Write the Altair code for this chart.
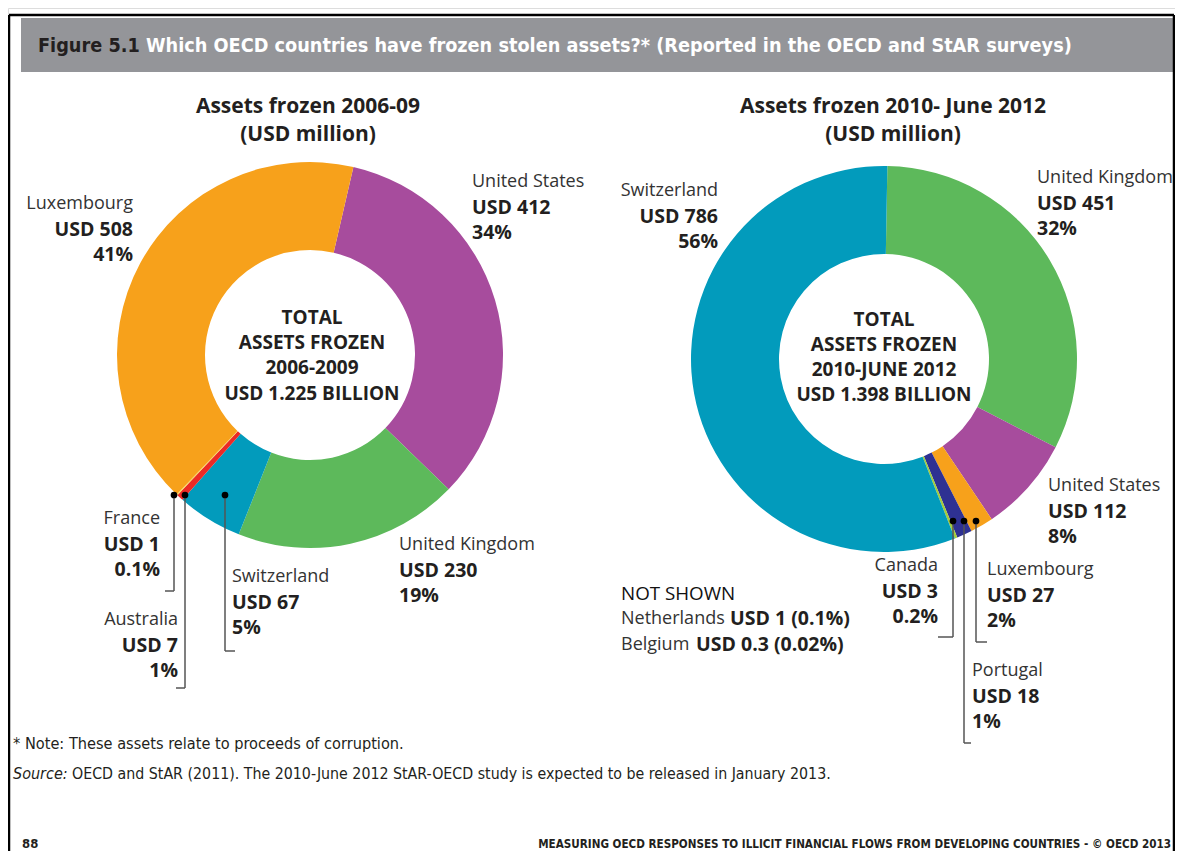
import math
import altair as alt
import pandas as pd

# ---------------- data ----------------
left_countries = ["United States", "United Kingdom", "Switzerland", "Australia", "France", "Luxembourg"]
left_values = [412, 230, 67, 7, 1, 508]
left_pct = ["34%", "19%", "5%", "1%", "0.1%", "41%"]

right_countries = ["United Kingdom", "United States", "Luxembourg", "Portugal", "Canada", "Switzerland"]
right_values = [451, 112, 27, 18, 3, 786]
right_pct = ["32%", "8%", "2%", "1%", "0.2%", "56%"]

not_shown_countries = ["Netherlands", "Belgium"]
not_shown_values = ["USD 1 (0.1%)", "USD 0.3 (0.02%)"]

color_domain = ["Luxembourg", "United States", "United Kingdom", "Switzerland",
                "Australia", "France", "Portugal", "Canada"]
color_range = ["#F7A11B", "#A74C9D", "#5DB95B", "#029BBC",
               "#EC2A26", "#F5D55A", "#2E3192", "#A4CD3A"]

# ---------------- layout (page pixel coords) ----------------
OFF = 8  # page margin
W, H = 1167, 843
RIGHT_EDGE = 1174

def px(v):
    return v - OFF

LEFT_C = (310, 355)
RIGHT_C = (884, 359)
R_OUT, R_IN = 193, 105

label_pos_left = {
    "United States": ("left", 472, 182),
    "United Kingdom": ("left", 399, 545),
    "Switzerland": ("left", 232, 577),
    "Australia": ("right", 178, 620),
    "France": ("right", 160, 519),
    "Luxembourg": ("right", 133, 204),
}
label_pos_right = {
    "United Kingdom": ("left", 1037, 178),
    "United States": ("left", 1048, 486),
    "Luxembourg": ("left", 987, 570),
    "Portugal": ("left", 972, 671),
    "Canada": ("right", 938, 566),
    "Switzerland": ("right", 718, 191),
}
LINE = 25.5

leaders = [  # dot position, elbow y, end x
    (174, 495, 591, 165),
    (185, 495, 688, 176),
    (225, 495, 651, 235),
    (953, 521, 637, 938),
    (964, 521, 743, 971),
    (976, 521, 642, 987),
]

FONT = "Open Sans"
CFONT = "Liberation Sans Narrow, DejaVu Sans Condensed, Open Sans"
DARK = "#231F20"
GREY = "#333333"
REG, BOLD = 18, 19.5

# ---------------- build tables ----------------
def donut_df(countries, values):
    return pd.DataFrame({"country": countries, "value": values, "idx": list(range(len(values)))})

dfL = donut_df(left_countries, left_values)
dfR = donut_df(right_countries, right_values)

rows = []
for countries, values, pcts, pos in [(left_countries, left_values, left_pct, label_pos_left),
                                     (right_countries, right_values, right_pct, label_pos_right)]:
    for c, v, p in zip(countries, values, pcts):
        al, x, y = pos[c]
        rows.append(dict(x=px(x), y=px(y), text=c, bold=False, align=al))
        rows.append(dict(x=px(x), y=px(y + LINE), text=f"USD {v}", bold=True, align=al))
        rows.append(dict(x=px(x), y=px(y + 2 * LINE), text=p, bold=True, align=al))
labels = pd.DataFrame(rows)

def text_layer(df, align="left", bold=False, size=17, color=DARK, font=FONT, italic=False, baseline="middle"):
    kw = dict(align=align, baseline=baseline, fontSize=size, font=font, color=color,
              fontWeight="bold" if bold else "normal")
    if italic:
        kw["fontStyle"] = "italic"
    return alt.Chart(df).mark_text(**kw).encode(
        x=alt.X("x:Q", scale=None), y=alt.Y("y:Q", scale=None), text="text:N")

layers = []

# frame + title bar
frame = pd.DataFrame([
    dict(x=px(9), y=px(15), x2=px(RIGHT_EDGE), y2=px(15)),
    dict(x=px(9), y=px(15), x2=px(9), y2=px(859)),
    dict(x=px(RIGHT_EDGE), y=px(15), x2=px(RIGHT_EDGE), y2=px(859)),
])
bar = pd.DataFrame([dict(x=px(21), y=px(18), x2=px(RIGHT_EDGE), y2=px(72))])
layers.append(alt.Chart(bar).mark_rect(color="#949599").encode(
    x=alt.X("x:Q", scale=None), x2="x2", y=alt.Y("y:Q", scale=None), y2="y2"))
layers.append(alt.Chart(frame).mark_rule(color="black", strokeWidth=2.5).encode(
    x=alt.X("x:Q", scale=None), x2="x2", y=alt.Y("y:Q", scale=None), y2="y2"))

layers.append(text_layer(pd.DataFrame([dict(x=px(38), y=px(46), text="Figure 5.1")]),
                         bold=True, size=19.7, color=DARK, font=CFONT))
layers.append(text_layer(pd.DataFrame([dict(x=px(146), y=px(46),
                         text="Which OECD countries have frozen stolen assets?* (Reported in the OECD and StAR surveys)")]),
                         bold=True, size=19.7, color="white", font=CFONT))

# donuts
def donut(df, center, start_deg):
    start = math.radians(start_deg)
    total = float(df["value"].sum())
    return alt.Chart(df).mark_arc(radius=R_OUT, radius2=R_IN).encode(
        theta=alt.Theta("value:Q", stack=True,
                        scale=alt.Scale(domain=[0, total], range=[start, start + 2 * math.pi], nice=False)),
        order=alt.Order("idx:Q"),
        color=alt.Color("country:N", scale=alt.Scale(domain=color_domain, range=color_range), legend=None),
        x=alt.value(px(center[0])), y=alt.value(px(center[1])),
    )

layers.append(donut(dfL, LEFT_C, 13))
layers.append(donut(dfR, RIGHT_C, 1))

# subtitles
subs = pd.DataFrame([
    dict(x=px(308), y=px(107), text="Assets frozen 2006-09"),
    dict(x=px(308), y=px(135), text="(USD million)"),
    dict(x=px(893), y=px(107), text="Assets frozen 2010- June 2012"),
    dict(x=px(893), y=px(135), text="(USD million)"),
])
layers.append(text_layer(subs, align="center", bold=True, size=21))

# centre texts
left_total = sum(left_values)
right_total = sum(right_values) + 1 + 0.3
centre = pd.DataFrame([
    dict(x=px(312), y=px(318), text="TOTAL"),
    dict(x=px(312), y=px(343), text="ASSETS FROZEN"),
    dict(x=px(312), y=px(368), text="2006-2009"),
    dict(x=px(312), y=px(394), text=f"USD {left_total/1000:.3f} BILLION"),
    dict(x=px(884), y=px(320), text="TOTAL"),
    dict(x=px(884), y=px(345), text="ASSETS FROZEN"),
    dict(x=px(884), y=px(370), text="2010-JUNE 2012"),
    dict(x=px(884), y=px(395), text=f"USD {right_total/1000:.3f} BILLION"),
])
layers.append(text_layer(centre, align="center", bold=True, size=19))

# slice labels
for al in ["left", "right"]:
    for b in [False, True]:
        sub = labels[(labels["align"] == al) & (labels["bold"] == b)]
        layers.append(text_layer(sub, align=al, bold=b, size=BOLD if b else REG, color=DARK if b else GREY))

# not shown
ns = pd.DataFrame([dict(x=px(621), y=px(594), text="NOT SHOWN")])
layers.append(text_layer(ns, bold=False, size=18.8, color="#111111"))
ns_names = pd.DataFrame([dict(x=px(621), y=px(619 + 26 * i), text=c) for i, c in enumerate(not_shown_countries)])
layers.append(text_layer(ns_names, bold=False, size=REG, color=GREY))
ns_vals = pd.DataFrame([dict(x=px(730 if i == 0 else 696), y=px(619 + 26 * i), text=v)
                        for i, v in enumerate(not_shown_values)])
layers.append(text_layer(ns_vals, bold=True, size=BOLD, color=DARK))

# leader lines
segs, dots = [], []
for dx, dy, ey, ex in leaders:
    segs.append(dict(x=px(dx), y=px(dy), x2=px(dx), y2=px(ey)))
    segs.append(dict(x=px(dx), y=px(ey), x2=px(ex), y2=px(ey)))
    dots.append(dict(x=px(dx), y=px(dy)))
layers.append(alt.Chart(pd.DataFrame(segs)).mark_rule(color="#555555", strokeWidth=1.5).encode(
    x=alt.X("x:Q", scale=None), x2="x2", y=alt.Y("y:Q", scale=None), y2="y2"))
layers.append(alt.Chart(pd.DataFrame(dots)).mark_point(filled=True, color="black", size=45, opacity=1).encode(
    x=alt.X("x:Q", scale=None), y=alt.Y("y:Q", scale=None)))

# notes
layers.append(text_layer(pd.DataFrame([dict(x=px(13), y=px(744), text="* Note: These assets relate to proceeds of corruption.")]),
                         size=16.2, font=CFONT, color=DARK))
layers.append(text_layer(pd.DataFrame([dict(x=px(13), y=px(774), text="Source:")]),
                         size=16, font=CFONT, color=DARK, italic=True))
layers.append(text_layer(pd.DataFrame([dict(x=px(72), y=px(774),
                         text="OECD and StAR (2011). The 2010-June 2012 StAR-OECD study is expected to be released in January 2013.")]),
                         size=15.8, font=CFONT, color=DARK))
layers.append(text_layer(pd.DataFrame([dict(x=px(22), y=px(848), text="88")]),
                         bold=True, size=13, font=CFONT, color=DARK, baseline="alphabetic"))
layers.append(text_layer(pd.DataFrame([dict(x=px(1171), y=px(848),
                         text="MEASURING OECD RESPONSES TO ILLICIT FINANCIAL FLOWS FROM DEVELOPING COUNTRIES - © OECD 2013")]),
                         align="right", bold=True, size=11.6, font=CFONT, color=DARK, baseline="alphabetic"))

chart = alt.layer(*layers).resolve_scale(theta="independent").properties(
    width=W, height=H, autosize=alt.AutoSizeParams(type="none"), padding=0
).configure_view(stroke=None).configure(background="white")

chart.save("out.html", embed_options={"renderer": "svg", "actions": False})
